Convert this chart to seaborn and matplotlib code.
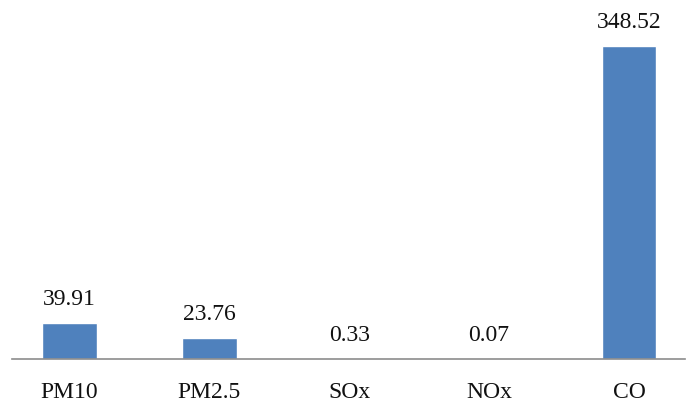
import matplotlib
matplotlib.use("Agg")
import matplotlib.pyplot as plt
import pandas as pd
import seaborn as sns

pollutants = ["PM10", "PM2.5", "SOx", "NOx", "CO"]
emissions = [39.91, 23.76, 0.33, 0.07, 348.52]

sns.set_theme(style="white")
plt.rcParams["font.family"] = ["Liberation Serif", "DejaVu Serif"]

df = pd.DataFrame({"Pollutant": pollutants, "Emission": emissions})

fig = plt.figure(figsize=(6.89, 4.06), dpi=100)
ax = fig.add_axes([12 / 689, 46 / 406, 673 / 689, 360 / 406])
sns.barplot(data=df, x="Pollutant", y="Emission", color="#4F81BD",
            saturation=1, width=0.39, ax=ax)

ax.set_xlim(-0.41, 4.40)
ax.set_ylim(0, 360 / 0.8981)
for lab in ax.bar_label(ax.containers[0], labels=[f"{v:.2f}" for v in emissions],
                        padding=10, fontsize=17):
    lab.set_color("#111111")

for side in ["top", "right", "left"]:
    ax.spines[side].set_visible(False)
ax.spines["bottom"].set_color("#8c8c8c")
ax.spines["bottom"].set_linewidth(1.2)
ax.set_yticks([])
ax.set_xlabel("")
ax.set_ylabel("")
ax.tick_params(axis="x", length=0, pad=16, labelsize=17, labelcolor="#111111")

fig.savefig("out.png", dpi=100)
